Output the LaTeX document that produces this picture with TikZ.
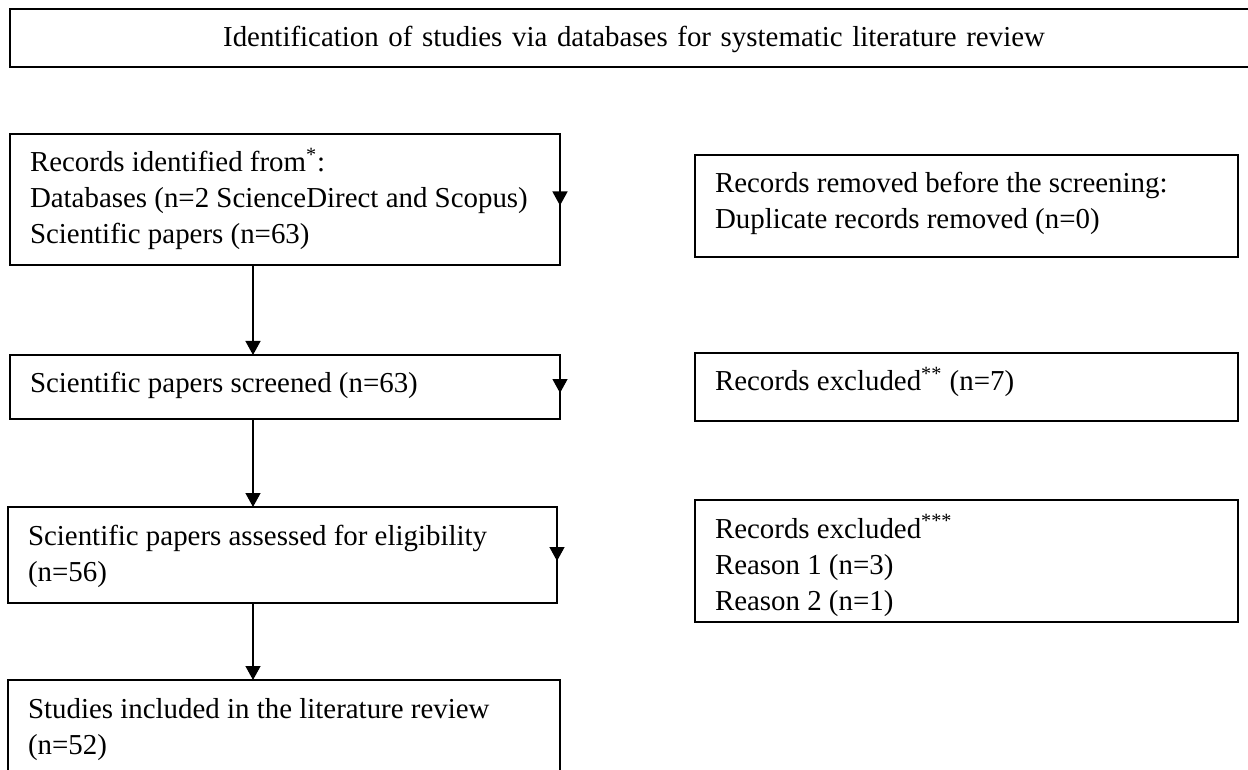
\documentclass[tikz,border=0pt]{standalone}
\usepackage{fontspec}
\setmainfont{Liberation Serif}
\usetikzlibrary{positioning}
\usetikzlibrary{arrows.meta}

\begin{document}
\begin{tikzpicture}[>={Triangle[width=7.5pt,length=7pt]},x=0.5pt,y=0.5pt,
	font=\fontsize{14.45pt}{18pt}\selectfont,
	box/.style={draw=black,line width=0.8pt,outer sep=0pt,inner xsep=10pt,inner ysep=0pt,align=flush left,text height=19pt,anchor=north west},
	flow/.style={->,line width=0.65pt}]
	\clip (0,0) rectangle (1248,-770);

	\node [box,text width=604pt,align=center,text depth=10pt,line width=1pt] at (10,-9) (title) {Identification of studies via databases for systematic literature review};

	% left column
	\node [box,text width=255pt,text depth=46.5pt,below=33.5pt of title.south west,anchor=north west] (rec) {Records identified from\textsuperscript{*}:\\Databases (n=2 ScienceDirect and Scopus)\\Scientific papers (n=63)};
	\node [box,text width=255pt,text depth=13pt,below=45pt of rec.south west,anchor=north west] (scr) {Scientific papers screened (n=63)};
	\node [box,text width=254.5pt,text depth=29pt,below=44pt of scr.south west,anchor=north west,xshift=-1pt] (elig) {Scientific papers assessed for eligibility\\(n=56)};
	\node [box,text width=256pt,text depth=45pt,below=38.5pt of elig.south west,anchor=north west] (incl) {Studies included in the literature review\\(n=52)};

	% right column
	\node [box,text width=251.5pt,text depth=32pt] at (695,-155) (rem) {Records removed before the screening:\\Duplicate records removed (n=0)};
	\node [box,text width=251.5pt,text depth=15pt] at (695,-353) (exc1) {Records excluded\textsuperscript{**} (n=7)};
	\node [box,text width=251.5pt,text depth=42pt] at (695,-500) (exc2) {Records excluded\textsuperscript{***}\\Reason 1 (n=3)\\Reason 2 (n=1)};

	\coordinate (spine) at (253,0);
	\draw[flow] (rec.south -| spine) -- (scr.north -| spine);
	\draw[flow] (scr.south -| spine) -- (elig.north -| spine);
	\draw[flow] (elig.south -| spine) -- (incl.north -| spine);

	\draw[flow] ([yshift=4pt]rec.east) -- ([yshift=-3pt]rec.east);
	\draw[flow] ([yshift=4pt]scr.east) -- ([yshift=-3pt]scr.east);
	\draw[flow] ([yshift=4pt]elig.east) -- ([yshift=-3pt]elig.east);
\end{tikzpicture}
\end{document}
